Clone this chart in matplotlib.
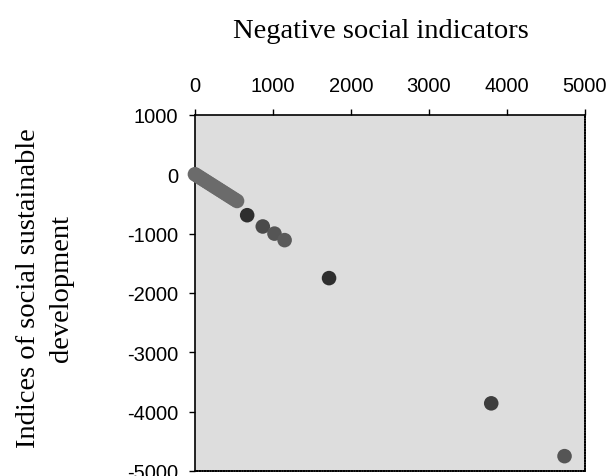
import matplotlib
matplotlib.use("Agg")
import matplotlib.pyplot as plt

# valores
neg_x = [0, 30, 60, 90, 120, 150, 180, 210, 240, 270, 300, 330, 360, 390,
         420, 450, 480, 510, 540, 670, 870, 1020, 1150, 1720, 3800, 4740]
idx_y = [0, -25, -50, -75, -100, -125, -150, -175, -200, -225, -250, -275,
         -300, -325, -350, -375, -400, -425, -450, -690, -880, -1000, -1110,
         -1750, -3860, -4750]
shade = ['#6b6b6b'] * 19 + ['#2e2e2e', '#4a4a4a', '#555555', '#5a5a5a',
                            '#2e2e2e', '#3e3e3e', '#555555']

xticks = [0, 1000, 2000, 3000, 4000, 5000]
yticks = [1000, 0, -1000, -2000, -3000, -4000, -5000]

plt.rcParams['axes.unicode_minus'] = False

fig = plt.figure(figsize=(6.13, 4.77), dpi=100)
ax = fig.add_axes([0.318, 0.0105, 0.636, 0.7465])
ax.set_facecolor('#dddddd')

ax.scatter(neg_x, idx_y, s=110, c=shade, edgecolors='none', zorder=3,
           clip_on=False)

ax.set_xlim(0, 5000)
ax.set_ylim(-5000, 1000)
ax.xaxis.tick_top()
ax.set_xticks(xticks)
ax.set_yticks(yticks)
ax.tick_params(labelsize=14.5, length=4, width=1)
ax.tick_params(axis='x', pad=10)
ax.tick_params(axis='y', pad=8)
for lab in ax.get_xticklabels() + ax.get_yticklabels():
    lab.set_fontfamily('Liberation Sans')
for sp in ax.spines.values():
    sp.set_linewidth(1.2)
    sp.set_linestyle((0, (1, 0.6)))
ax.spines['left'].set_linestyle('-')
ax.spines['top'].set_linestyle('-')

fig.text(0.622, 0.934, 'Negative social indicators', ha='center',
         va='center', fontsize=20.5, family='Liberation Serif')
fig.text(0.046, 0.396, 'Indices of social sustainable', ha='center',
         va='center', rotation=90, fontsize=20.5, family='Liberation Serif')
fig.text(0.101, 0.396, 'development', ha='center', va='center', rotation=90,
         fontsize=20.5, family='Liberation Serif')

fig.savefig('out.png', dpi=100)
